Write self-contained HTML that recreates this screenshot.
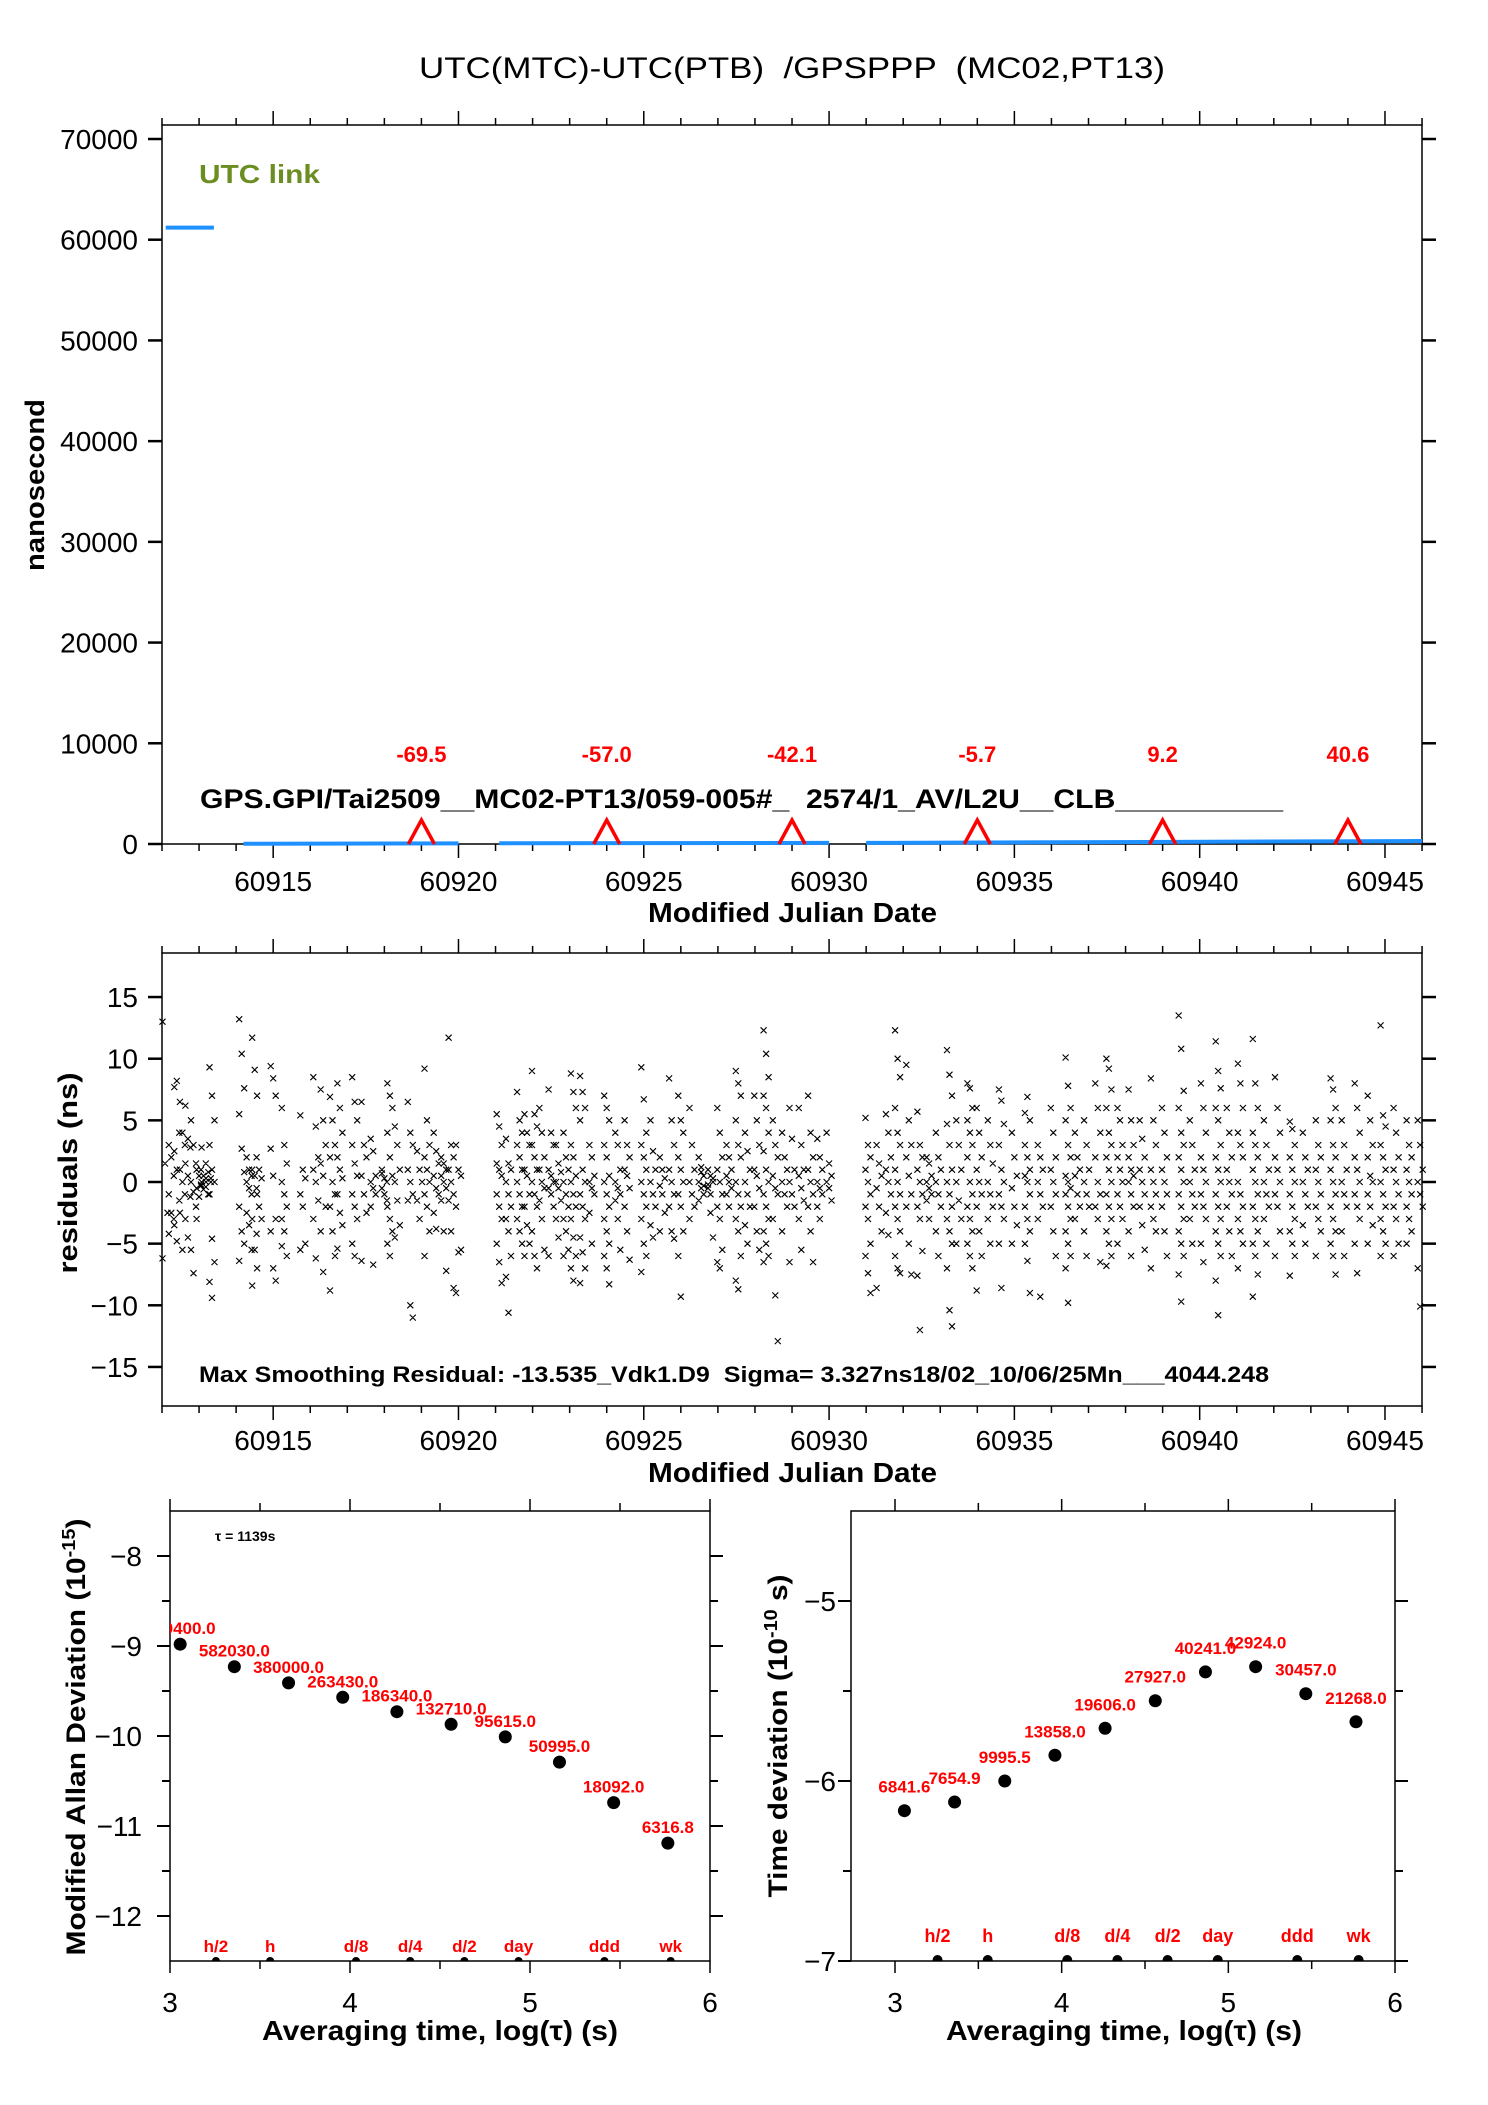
<!DOCTYPE html>
<html><head><meta charset="utf-8"><title>UTC(MTC)-UTC(PTB) GPSPPP</title>
<style>
html,body{margin:0;padding:0;background:#fff;}
svg{display:block;font-family:"Liberation Sans",Arial,sans-serif;}
.pre{white-space:pre;}
</style></head>
<body>
<svg id="chart" width="1488" height="2105" viewBox="0 0 1488 2105" xmlns="http://www.w3.org/2000/svg">
<defs>
<clipPath id="clipL"><rect x="170" y="1511" width="540" height="450"/></clipPath>
<clipPath id="clipR"><rect x="851" y="1511" width="544" height="450"/></clipPath>
</defs>
<rect width="1488" height="2105" fill="#fff"/>
<text class="pre" x="419" y="78" font-size="30" textLength="746" lengthAdjust="spacingAndGlyphs">UTC(MTC)-UTC(PTB)  /GPSPPP  (MC02,PT13)</text>

<g id="top">
<rect x="162" y="125" width="1260" height="719" fill="none" stroke="#000" stroke-width="1.5"/>
<text x="199" y="183" font-size="26" font-weight="bold" fill="#6b8e23" textLength="121" lengthAdjust="spacingAndGlyphs">UTC link</text>
<text class="pre" x="200" y="808" font-size="27" font-weight="bold" textLength="1083" lengthAdjust="spacingAndGlyphs">GPS.GPI/Tai2509__MC02-PT13/059-005#_  2574/1_AV/L2U__CLB__________</text>
<text transform="translate(44,485) rotate(-90)" text-anchor="middle" font-size="27" font-weight="bold" textLength="172" lengthAdjust="spacingAndGlyphs">nanosecond</text>
<text x="648" y="922" font-size="28" font-weight="bold" textLength="289" lengthAdjust="spacingAndGlyphs">Modified Julian Date</text>
</g>

<g id="mid">
<rect x="162" y="953" width="1260" height="453" fill="none" stroke="#000" stroke-width="1.5"/>
<text class="pre" x="199" y="1382" font-size="22" font-weight="bold" textLength="1070" lengthAdjust="spacingAndGlyphs">Max Smoothing Residual: -13.535_Vdk1.D9  Sigma= 3.327ns18/02_10/06/25Mn___4044.248</text>
<text transform="translate(77,1173) rotate(-90)" text-anchor="middle" font-size="27" font-weight="bold" textLength="201" lengthAdjust="spacingAndGlyphs">residuals (ns)</text>
<text x="648" y="1482" font-size="28" font-weight="bold" textLength="289" lengthAdjust="spacingAndGlyphs">Modified Julian Date</text>
</g>

<g id="adev">
<rect x="170" y="1511" width="540" height="450" fill="none" stroke="#000" stroke-width="1.5"/>
<text x="215" y="1541" font-size="14" font-weight="bold">τ = 1139s</text>
<text transform="translate(85,1737) rotate(-90)" text-anchor="middle" font-size="27" font-weight="bold" textLength="437" lengthAdjust="spacingAndGlyphs">Modified Allan Deviation (10<tspan dy="-10" font-size="18">-15</tspan><tspan dy="10">)</tspan></text>
<text x="440" y="2040" text-anchor="middle" font-size="28" font-weight="bold" textLength="356" lengthAdjust="spacingAndGlyphs">Averaging time, log(τ) (s)</text>
</g>

<g id="tdev">
<rect x="851" y="1511" width="544" height="450" fill="none" stroke="#000" stroke-width="1.5"/>
<text transform="translate(787,1736) rotate(-90)" text-anchor="middle" font-size="27" font-weight="bold" textLength="323" lengthAdjust="spacingAndGlyphs">Time deviation (10<tspan dy="-10" font-size="18">-10</tspan><tspan dy="10"> s)</tspan></text>
<text x="1124" y="2040" text-anchor="middle" font-size="28" font-weight="bold" textLength="356" lengthAdjust="spacingAndGlyphs">Averaging time, log(τ) (s)</text>
</g>
</svg>

<script>
// ---------- data ----------
const topYTicks = [0,10000,20000,30000,40000,50000,60000,70000];
const mjdTicks = [60915,60920,60925,60930,60935,60940,60945];
const blueMjd = [60912.1,60913.4,null,60914.2,60920.0,null,60921.1,60930.0,null,60931.0,60946.0];
const blueVal = [61200,61200,null,20,60,null,70,110,null,110,300];
const stepMjd = [60919,60924,60929,60934,60939,60944];
const stepVal = ["-69.5","-57.0","-42.1","-5.7","9.2","40.6"];
const resYTicks = [15,10,5,0,-5,-10,-15];
const stripMjd = [60912.08,60912.25,60912.4,60912.55,60912.7,60912.85,60913.0,60913.12,60913.25,60913.35,
60914.15,60914.35,60914.5,60914.62,60915.0,60915.3,60915.8,60916.15,60916.35,60916.6,
60916.8,60917.2,60917.45,60917.7,60918.0,60918.15,60918.35,60918.7,60918.95,60919.15,
60919.4,60919.6,60919.8,60920.0,60921.1,60921.35,60921.65,60921.85,60922.05,60922.25,
60922.5,60922.7,60922.9,60923.1,60923.35,60923.6,60924.0,60924.3,60924.55,60925.0,
60925.25,60925.5,60925.75,60926.0,60926.3,60926.55,60926.8,60927.05,60927.3,60927.55,
60927.8,60928.05,60928.3,60928.55,60928.8,60929.0,60929.25,60929.5,60929.75,60930.0,
60931.05,60931.35,60931.6,60931.85,60932.15,60932.45,60932.7,60932.95,60933.25,60933.5,
60933.8,60934.05,60934.35,60934.65,60935.0,60935.35,60935.7,60936.05,60936.45,60936.7,
60936.95,60937.25,60937.55,60937.85,60938.15,60938.45,60938.75,60939.05,60939.5,60939.8,
60940.1,60940.5,60940.8,60941.1,60941.5,60941.8,60942.1,60942.5,60942.85,60943.2,
60943.6,60943.9,60944.25,60944.6,60944.95,60945.3,60945.65,60945.95];
const stripVals = [
[13,1.5,-2.5,-6.2],[3,2,0.5,-1,-2.5,-3,-4.2],[7.7,8.2,4,2.5,1,-1.5,-3.5,-4.8],[6.5,4,3,1,0,-1,-2.5,-5.5],
[6.2,3.5,2.8,1.5,0.5,-1.2,-3,-4.5],[5,3,1.5,0,-0.8,-2,-5.5,-7.4],[1,0.5,0,-0.5,-1.2,2.8,-3],[1,0.5,0,-0.3,-0.6,0.3,-0.2],
[1.5,0.8,0,-0.4,-1,0.3],[9.3,7,5,3,1,0,-1,-4.6,-6.5,-8.1,-9.4],
[13.2,10.4,7.6,5.5,2.7,0.8,-2,-4,-5,-6.4],[2,1,0.5,0,-0.5,-1,-2.5,-3.5,-5.5],[11.7,9.1,7,1,0.5,-1,-3,-5.5,-7,-8.4],
[2,1,0.3,-0.5,-2,-3,-4.2],[9.4,8.4,7,2.7,0.5,-3,-4,-7,-8],[6,3,1.5,0,-1,-2,-3,-4,-6,-5.2],[5.4,1,0.3,-1,-2,-5,-5.5],
[8.5,4.5,2,1,0,-1.5,-3,-6.2],[7.5,5,3,1.5,0.5,-2,-4,-7.3],[6.9,5,3,2,0,-1,-2,-4,-6,-8.8],
[8,6,4,2,1,0.3,-1,-2.5,-3.5,-5.4],[8.5,6.5,5,3,1.5,0.5,-1,-2,-3,-5,-6],[6.5,3,2,0.5,-1,-2.5,-6.4],
[3.5,2.5,0.5,0,-0.5,-1,-2,-6.7],[1,0.3,0,-0.5,-1,-1.5,0.7],[8,7,6,4,2,0.5,-2,-3,-4,-5,-6],[4.5,3,1,0,-1.5,-3.5,-4.5],
[6.5,4,3,1,0,-1,-1.5,-10,-11],[2.5,1,0,-1.5,-3],[9.2,5,3,2,1,0,-1,-2,-4,-6],
[4,2.5,1.5,0.5,-0.5,-1,-2.5,-3.8],[2,1.5,1,0.5,0,-0.5,-1.5,-4,-7.2],[11.7,3,2,1,0,-1,-1.5,-4,-8.6],[3,1,0.5,-2,-5.7,-5.5,-9],
[5.5,4.5,3,1.5,1,0.5,-1,-2,-3,-5,-6.5,-8.2],[3.5,1.5,1,0,-1,-2,-3,-4,-6,-7.7,-10.6],[7.3,5,4,3,2,1,0,-1,-2,-3,-4,-5],
[5.5,4,3,1,0.5,-1,-2,-3.5,-5,-6],[9,5.5,4.5,3,2,1,0,-1,-2,-4,-6,-7],[6,4,2,1,0,-0.5,-1.5,-3,-5.5],
[7.5,4,3,1,0.5,0,-0.5,-1,-2,-6],[3,1.5,0.8,0,-0.5,-1.5,-3,-4.5],[4,2,1,0,-1,-2,-3,-4,-5.5,-6],
[8.8,7.3,6,3,2,0.5,0,-1,-2,-3,-4.5,-6,-7,-8],[8.6,7.3,6,5,1,0,-1,-2,-3,-4.5,-5.7,-7,-8.2],[3,2,0.5,0,-0.5,-1,-2.5,-5],
[7,6,5,3,2,0.5,0,-1,-2,-3,-4,-5,-6,-7,-8.3],[4,3,1,0,-0.5,-1,-1.5,-3,-5.5],[5,3,2,1,0.5,-0.5,-2,-4,-6.3],
[9.3,6.7,4,3,2,1,0,-1,-2,-3,-5,-6,-7.3],[5,2.5,1,0,-1,-2,-3.5,-4.5],[2,1,0.3,-0.3,-1,-2.5,-4],[8.4,5,3,1,0,-1,-2,-4,-4.6],
[7,5,4,2,1,0,-1,-2,-4,-6,-9.3],[6,3,1,0,-1,-2,-3],[2,1.2,0.5,0,-0.5,-1,-1.5,0.8,-0.3],[1,0.5,0,-0.5,-1,0.3,-0.2,-2.5,-4.5],
[6,4,2,1,0,-1,-2,-3,-5.5,-6.5,-7],[3,2,1,0.5,0,-0.5,-1,-2],[9,8,7,5,3,2,0,-1,-2,-3,-4,-6,-8,-8.7],
[4,2.5,1,0,-1,-2,-3.5,-5],[7,5,3,1,0.5,-0.5,-2,-4,-5.5],[12.3,10.4,8.5,7,6,4,2.5,1,0,-1,-2,-3,-4,-5,-6,-6.5],
[5,3,2,0.5,-0.5,-1,-3,-9.2,-12.9],[4,2,1,0,-1,-2,-4],[6,3.5,1,0,-1,-2,-6.5],[6,3,1,0.5,-0.5,-1.5,-3,-5.5],
[7,4,2,1,0,-1,-2,-4,-6.5],[3.5,2,1,0,-0.5,-1,-2,-3],[4,1.5,0.5,0,-0.5,-1.5],
[5.2,3,2,1,0,-1,-2,-3,-5,-6,-7.4,-9],[3,1.5,0.5,-0.5,-2,-4,-8.6],[5.5,4,2,1,0,-1,-2.5,-4.3],
[12.3,10,8.5,6,4,3,1,0,-1,-2,-3,-4,-6,-7,-7.4],[9.5,5,3,2,0.5,-1,-2,-5,-7.5],[5.7,3,2,1,0,-1,-2,-3,-5.6,-7.6,-12],
[2,1.5,0.5,0,-0.5,-1,-1.5,-3],[4,2,1,0,-1,-2,-4,-6],[10.7,8.7,7,4.7,3,1,0,-1,-2,-3,-4,-5,-7,-10.4,-11.7],
[5,3,1,0,-1.5,-3,-5],[8,7.6,6,5,4,3,2,0,-1,-2,-3,-4,-5,-6,-7],[6,4,2,1,0,-1,-2,-4,-6,-8.8],[5,3,1.5,0,-1,-2,-3,-5],
[7.5,6.6,4.7,3,1,0,-1,-2,-3,-5,-8.6],[4,2,0.5,-0.5,-2,-3.5,-5],[5.6,6.9,5,3,2,1,0.5,0,-1,-2,-3,-4,-5,-6.4,-9],
[3,2,1,0,-1,-2,-3,-9.3],[6,4,2,1,0,-1,-2,-4,-6],[10.1,7.8,6,5,3,2,0.5,0,-0.5,-1,-2,-3,-4,-5,-6,-7,-9.8],
[4,2,1,0.5,-1,-2,-3],[5,3,1,0,-1,-2,-4,-6],[8,6,4,2,0,-1,-2,-3,-6.5],[10,9.2,7.5,6,4,3,2,1,0,-1,-2,-3,-4,-5,-6,-6.8],
[6,5,3,2,1,0,-1,-2,-3,-5],[7.5,5,3,2,1,0.5,0,-1,-2,-4,-6],[5,3.5,2,1,0,-1,-2,-3.5,-5.5],[8.4,5,3,1,0,-1,-2,-3,-4,-7],
[6,4,2,1,0,-1,-2,-4,-6],[13.5,10.8,7.4,6,4,3,2,1,0,-1,-2,-3,-4,-5,-6,-7.5,-9.7],[5,3,1,0,-1,-2,-3,-5],
[8,6,4,2,1,0,-1,-2,-3,-5,-6.5],[11.4,9,7.6,6,5,3,2,1,0,-1,-2,-3,-4,-5,-6,-8,-10.8],[6,4,2,1,0,-1,-2,-4,-6],
[9.6,8,6,4,3,2,0,-1,-2,-3,-4,-5,-7],[11.6,8,6,4,3,2,1,0,-1,-2,-3,-4,-5,-6,-7.5,-9.3],[5,3,1,0,-1,-2,-3,-5],
[8.5,6,4,2,1,0,-1,-2,-4,-6],[4.9,4.3,3,2,1,0,-1,-2,-3,-4,-5,-6,-7.6],[4,2,1,0,-1,-2,-3.5,-5],[5,3,2,1,0,-1,-2,-3,-4,-6],
[8.4,7.5,6,5,3,2,1,0,-1,-2,-3,-4,-5,-6,-7.5],[5,3,1,0,-1,-2,-4,-6],[8,6,4,2,1,0,-1,-2,-3,-5,-7.4],
[7,5,3,2,0.5,0,-1,-2,-3.5,-5],[12.7,5.4,4.5,3,2,1,0,-1,-2,-3,-4,-5,-6],[6,4,2,1,0,-1,-2,-3,-5,-6],
[5,3,2,1,0,-1,-2,-3,-4,-5],[5,3,1,0,-1,-2,-7,-10.1]];
const logTau = [3.0565,3.3575,3.6586,3.9596,4.2606,4.5617,4.8627,5.1638,5.4648,5.7658];
const mdevVals = [-8.98,-9.23,-9.41,-9.57,-9.73,-9.87,-10.01,-10.29,-10.74,-11.19];
const mdevLabels = ["780400.0","582030.0","380000.0","263430.0","186340.0","132710.0","95615.0","50995.0","18092.0","6316.8"];
const tdevVals = [-6.165,-6.117,-6.0,-5.857,-5.707,-5.554,-5.394,-5.365,-5.515,-5.671];
const tdevLabels = ["6841.6","7654.9","9995.5","13858.0","19606.0","27927.0","40241.0","42924.0","30457.0","21268.0"];
const tauNames = ["h/2","h","d/8","d/4","d/2","day","ddd","wk"];
const tauSecs = [1800,3600,10800,21600,43200,86400,259200,604800];
const mdevYTicks = [-8,-9,-10,-11,-12];
const tdevYTicks = [-5,-6,-7];
const logTicks = [3,4,5,6];

// ---------- scales ----------
const NS = "http://www.w3.org/2000/svg";
const svg = document.getElementById('chart');
const xMjd = m => 162 + (m - 60912) * 37.06;
const yTop = v => 844 - v * (705 / 70000);
const yRes = v => 1182 - v * 12.33;
const xL = l => 170 + (l - 3) * 180;
const yL = v => 1556 + (-8 - v) * 90;
const xR = l => 895 + (l - 3) * 166.67;
const yR = v => 1601 + (-5 - v) * 180;

function mk(tag, attrs, parent) {
  const e = document.createElementNS(NS, tag);
  for (const k in attrs) e.setAttribute(k, attrs[k]);
  (parent || svg).appendChild(e);
  return e;
}
function line(x1,y1,x2,y2,w,parent){
  const e = mk('line',{x1:x1,y1:y1,x2:x2,y2:y2,stroke:'#000','stroke-width':w||1.5},parent);
  
  
  return e;
}
function txt(s,x,y,size,anchor,parent,extra){
  const e = mk('text',Object.assign({x:x,y:y,'font-size':size,'text-anchor':anchor||'start'},extra||{}),parent);
  e.textContent = s;
  return e;
}

// ---------- top & middle x ticks ----------
for (let m = 60912; m <= 60946; m++) {
  const major = m % 5 === 0;
  const x = xMjd(m);
  const L = major ? 14 : 7;
  line(x,125,x,125-L); line(x,844,x,844+L);
  line(x,953,x,953-L); line(x,1406,x,1406+L);
}
mjdTicks.forEach(m => {
  const a = txt(String(m), xMjd(m), 891, 28, 'middle');
  
  
  const b = txt(String(m), xMjd(m), 1450, 28, 'middle');
  
  
});
topYTicks.forEach(v => {
  const y = yTop(v);
  line(148,y,162,y,2.5); line(1422,y,1436,y,2.5);
  const t = txt(String(v), 138, y+10, 28, 'end');
  
  
});
resYTicks.forEach(v => {
  const y = yRes(v);
  line(148,y,162,y,2.5); line(1422,y,1436,y,2.5);
  const t = txt(v < 0 ? '\u2212' + Math.abs(v) : String(v), 138, y+10, 28, 'end');
  
  
});

// ---------- top series ----------
let segs = [], cur = [];
blueMjd.forEach((m,i) => {
  if (m === null) { if (cur.length) segs.push(cur); cur = []; }
  else cur.push(xMjd(m).toFixed(1) + ',' + yTop(blueVal[i]).toFixed(1));
});
if (cur.length) segs.push(cur);
segs.forEach(s => {
  const p = mk('polyline',{points:s.join(' '),fill:'none',stroke:'#1e90ff','stroke-width':4});
  
  
});
stepMjd.forEach((m,i) => {
  const x = xMjd(m);
  const tri = mk('polyline',{points:(x-13)+',844 '+x+',820 '+(x+13)+',844',fill:'none',stroke:'#f00','stroke-width':3.5});
  
  
  const t = txt(stepVal[i], x, 762, 22, 'middle', svg, {fill:'#f00','font-weight':'bold'});
  
  
});

// ---------- residuals ----------
const resG = mk('g',{stroke:'#000','stroke-width':1.1});


let d = '';
stripMjd.forEach((m,i) => {
  const x = xMjd(m);
  stripVals[i].forEach((v,j) => {
    const xx = x + ((j % 3) - 1) * 2.5;
    const y = yRes(v);
    d += 'M'+(xx-3).toFixed(1)+' '+(y-3).toFixed(1)+'l6 6M'+(xx-3).toFixed(1)+' '+(y+3).toFixed(1)+'l6 -6';
  });
});
mk('path',{d:d,fill:'none'},resG);

// ---------- bottom panels ----------
function bottomAxes(xs, ys, left, right, top, bottom, yTicksArr, halfStep, labelX, name){
  logTicks.forEach(l => { const x = xs(l); line(x,bottom,x,bottom+12); line(x,top,x,top-12); });
  [3.5,4.5,5.5].forEach(l => { const x = xs(l); line(x,bottom,x,bottom+8); line(x,top,x,top-8); });
  logTicks.forEach(l => {
    const t = txt(String(l), xs(l), 2012, 28, 'middle');
    
    
  });
  yTicksArr.forEach(v => {
    const y = ys(v);
    line(left-13,y,left,y,2); line(right,y,right+13,y,2);
    const t = txt('\u2212' + Math.abs(v), labelX, y+10, 28, 'end');
    
    
    const yh = ys(v - halfStep);
    if (yh < bottom - 1 && yh > top + 1) { line(left-8,yh,left,yh,2); line(right,yh,right+8,yh,2); }
  });
}
bottomAxes(xL, yL, 170, 710, 1511, 1961, mdevYTicks, 0.5, 142, 'mdev');
bottomAxes(xR, yR, 851, 1395, 1511, 1961, tdevYTicks, 0.5, 836, 'tdev');

const gL = mk('g',{'clip-path':'url(#clipL)'});
const gR = mk('g',{'clip-path':'url(#clipR)'});
logTau.forEach((l,i) => {
  const c1 = mk('circle',{cx:xL(l),cy:yL(mdevVals[i]),r:6.5,fill:'#000'},gL);
  
  
  const t1 = txt(mdevLabels[i], xL(l), yL(mdevVals[i]) - 10, 17, 'middle', gL, {fill:'#f00','font-weight':'bold'});
  
  
  const c2 = mk('circle',{cx:xR(l),cy:yR(tdevVals[i]),r:6.5,fill:'#000'},gR);
  
  
  const t2 = txt(tdevLabels[i], xR(l), yR(tdevVals[i]) - 18, 17, 'middle', gR, {fill:'#f00','font-weight':'bold'});
  
  
});
tauSecs.forEach((s,i) => {
  const l = Math.log10(s);
  const d1 = mk('circle',{cx:xL(l),cy:1961,r:4,fill:'#000'},gL);
  
  
  const a = txt(tauNames[i], xL(l), 1952, 17, 'middle', svg, {fill:'#f00','font-weight':'bold'});
  
  
  const d2 = mk('circle',{cx:xR(l),cy:1960,r:5,fill:'#000'},gR);
  
  
  const b = txt(tauNames[i], xR(l), 1942, 18, 'middle', svg, {fill:'#f00','font-weight':'bold'});
  
  
});
</script>
</body></html>
